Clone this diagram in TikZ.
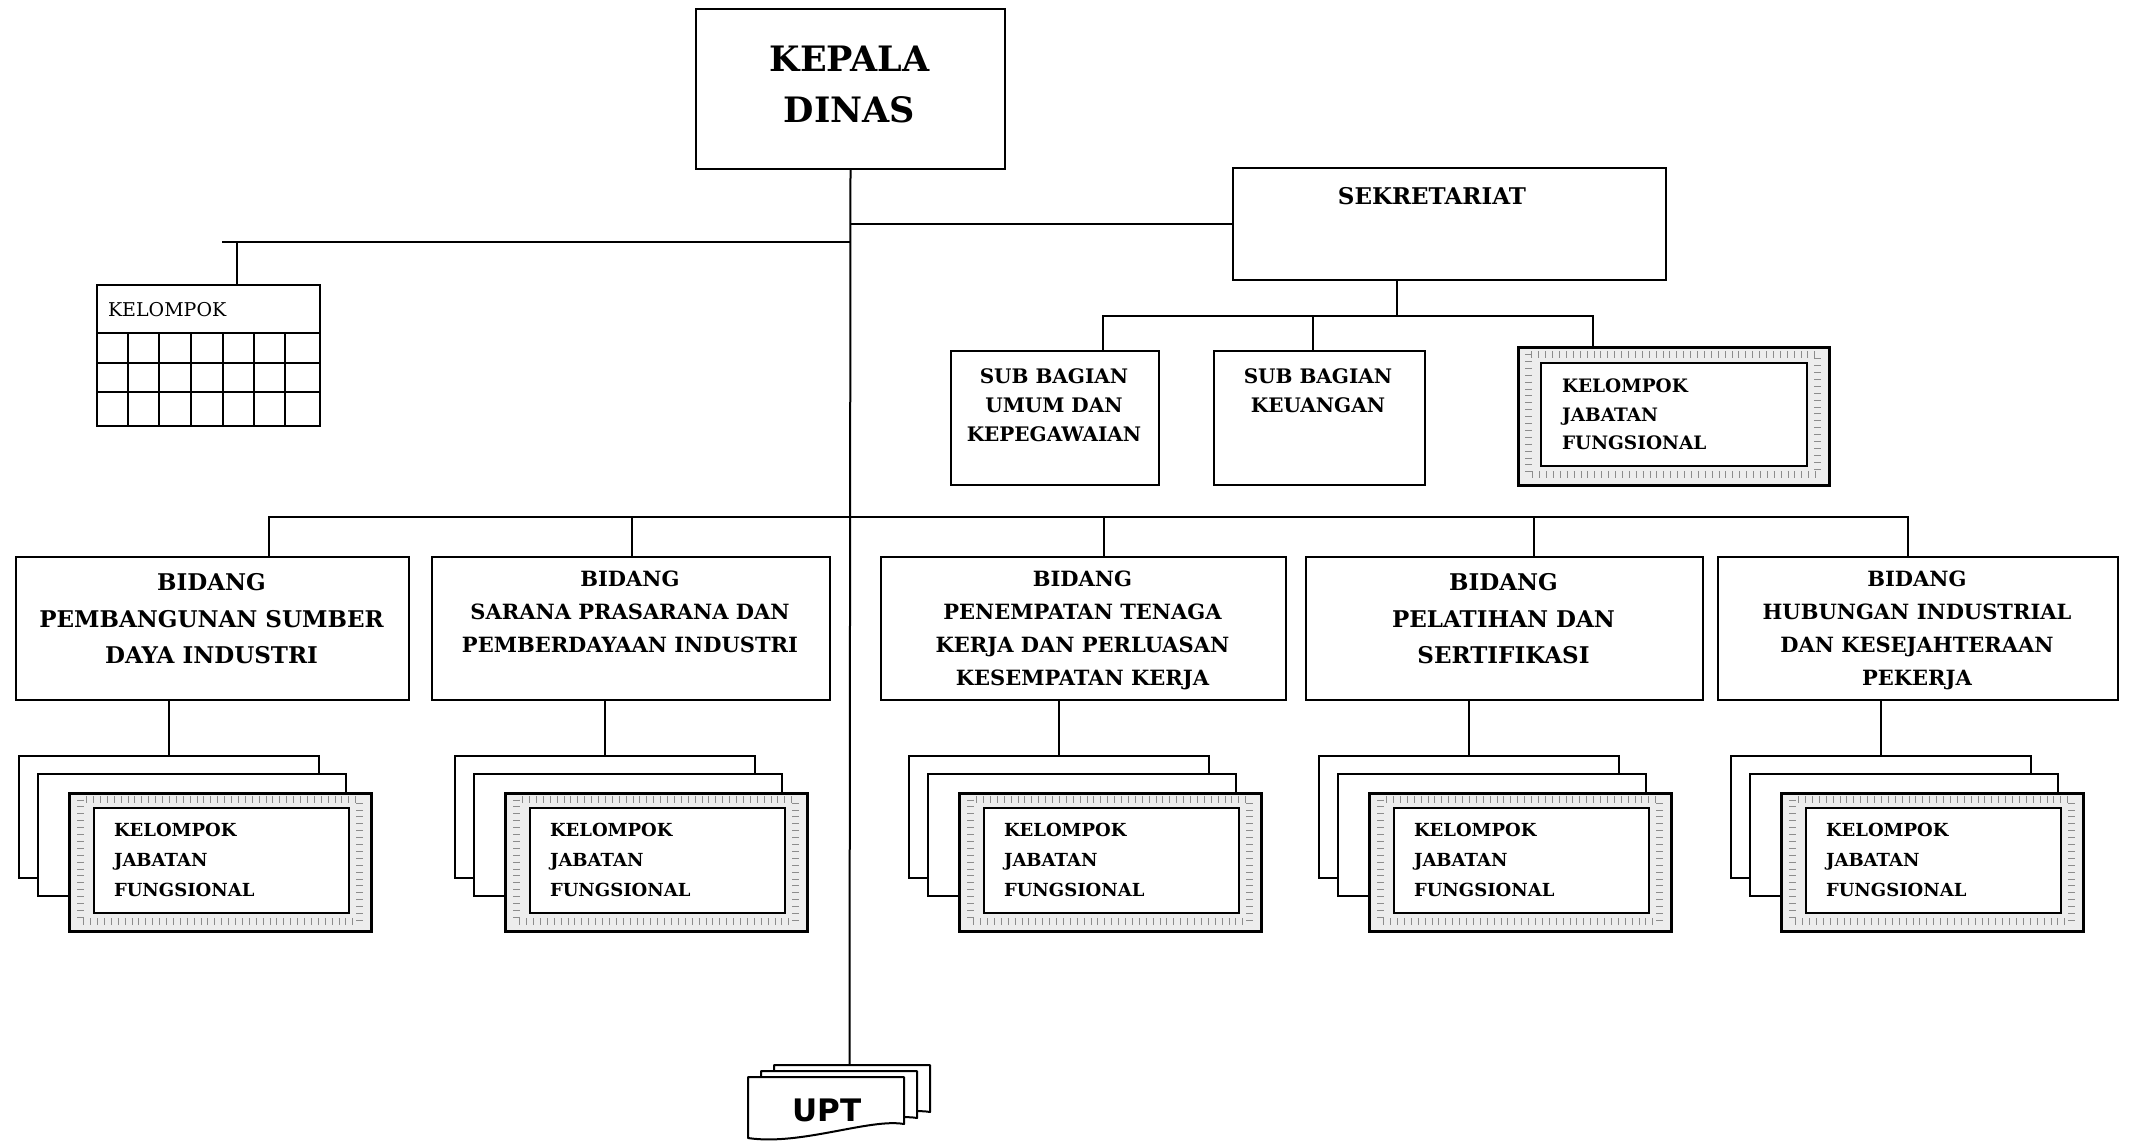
\documentclass[tikz,border=0pt]{standalone}
\usepackage{fontspec}
\setmainfont{DejaVu Serif}
\newfontfamily\uptfont{DejaVu Sans}
\begin{document}
\begin{tikzpicture}[x=1pt,y=-1pt,
  line width=2pt,
  box/.style={draw, line width=2pt, fill=white, rectangle, inner sep=0pt, anchor=north west},
  kjfout/.style={box, line width=2.6pt, fill=black!7},
  kjfin/.style={box, line width=2.4pt},
  ticks/.style={draw=black!45, line width=7pt, dash pattern=on 0.9pt off 6pt},
  txt/.style={inner sep=0pt, align=center, anchor=north, font=\bfseries},
  bigtxt/.style={txt, font=\fontsize{23}{36.5}\selectfont\bfseries},
  smalltxt/.style={txt, font=\fontsize{21}{33}\selectfont\bfseries},
  subtxt/.style={txt, font=\fontsize{20}{29}\selectfont\bfseries},
  kjftxt/.style={inner sep=0pt, align=left, anchor=north west},
  sheet/.style={draw, line width=2pt, fill=white, line join=round}
]
\useasboundingbox (0,0) rectangle (2129,1141);

% ---------- top level ----------
\node[box, minimum width=309, minimum height=160] (kd) at (695,8) {};
\node[txt, font=\fontsize{35}{51}\selectfont\bfseries] (kdt) at (849.5,45) {KEPALA\\DINAS};

\node[box, minimum width=433, minimum height=112] (sek) at (1232,167) {};
\node[txt, font=\fontsize{23}{28}\selectfont\bfseries] (sekt) at (1432,186) {SEKRETARIAT};

% ---------- kelompok grid (left) ----------
\node[box, minimum width=223, minimum height=141] (kel) at (96,284) {};
\node[inner sep=0pt, anchor=north west, font=\fontsize{19}{22}\selectfont] (kelt) at (107,301) {KELOMPOK};
\begin{scope}[line width=1.6pt]
  \draw (96,333) -- (319,333);
  \draw (96,363) -- (319,363);
  \draw (96,392) -- (319,392);
  \foreach \gx in {128,159,191,223,254,285} \draw (\gx,333) -- (\gx,425);
\end{scope}

% ---------- sekretariat sub units ----------
\node[box, minimum width=208, minimum height=134] (sub1) at (950,350) {};
\node[subtxt] (sub1t) at (1054,368) {SUB BAGIAN\\UMUM DAN\\KEPEGAWAIAN};
\node[box, minimum width=211, minimum height=134] (sub2) at (1213,350) {};
\node[subtxt] (sub2t) at (1318,368) {SUB BAGIAN\\KEUANGAN};

\node[kjfout, minimum width=311, minimum height=138] (kjs) at (1517,346) {};
\draw[ticks] (1528.5,354) rectangle (1817,474.5);
\node[kjfin, minimum width=266, minimum height=103] (kjsi) at (1540,362) {};
\node[kjftxt, font=\fontsize{18.5}{28.5}\selectfont\bfseries] (kjst) at (1561,378) {KELOMPOK\\JABATAN\\FUNGSIONAL};

% ---------- bidang ----------
\node[box, minimum width=393, minimum height=143] (bid1) at (15,556) {};
\node[bigtxt] (bid1t) at (211.5,572.5) {BIDANG\\PEMBANGUNAN SUMBER\\DAYA INDUSTRI};
\node[box, minimum width=398, minimum height=143] (bid2) at (431,556) {};
\node[smalltxt] (bid2t) at (630,570) {BIDANG\\SARANA PRASARANA DAN\\PEMBERDAYAAN INDUSTRI};
\node[box, minimum width=405, minimum height=143] (bid3) at (880,556) {};
\node[smalltxt] (bid3t) at (1082.5,570) {BIDANG\\PENEMPATAN TENAGA\\KERJA DAN PERLUASAN\\KESEMPATAN KERJA};
\node[box, minimum width=397, minimum height=143] (bid4) at (1305,556) {};
\node[bigtxt] (bid4t) at (1503.5,572.5) {BIDANG\\PELATIHAN DAN\\SERTIFIKASI};
\node[box, minimum width=400, minimum height=143] (bid5) at (1717,556) {};
\node[smalltxt] (bid5t) at (1917,570) {BIDANG\\HUBUNGAN INDUSTRIAL\\DAN KESEJAHTERAAN\\PEKERJA};

% ---------- stacked functional groups under each bidang ----------
\newcommand{\kjfstack}[3]{%
  \pgfmathsetmacro{\fx}{#2-100}
  \node[box, minimum width=300, minimum height=122] (#1b) at ({\fx-50},755) {};
  \node[box, minimum width=308, minimum height=122] (#1m) at ({\fx-31},773) {};
  \node[kjfout, minimum width=302, minimum height=138] (#1f) at (\fx,792) {};
  \draw[ticks] ({\fx+12.5},799.5) rectangle ({\fx+291},921);
  \node[kjfin, minimum width=255, minimum height=105] (#1i) at ({\fx+25},807) {};
  \node[kjftxt, font=\fontsize{18}{30}\selectfont\bfseries] (#1t) at ({\fx+45},822) {KELOMPOK\\JABATAN\\FUNGSIONAL};
  \draw (#3.south -| #1b.north) -- (#1b.north);
}
\kjfstack{st1}{168}{bid1}
\kjfstack{st2}{604}{bid2}
\kjfstack{st3}{1058}{bid3}
\kjfstack{st4}{1468}{bid4}
\kjfstack{st5}{1880}{bid5}

% ---------- UPT ----------
\foreach \dx/\dy in {26/-12, 13/-6, 0/0}
  \draw[sheet] ({748+\dx},{1077+\dy}) -- ({904+\dx},{1077+\dy}) -- ({904+\dx},{1124+\dy})
    .. controls ({870+\dx},{1118+\dy}) and ({800+\dx},{1146+\dy}) .. ({748+\dx},{1138+\dy}) -- cycle;
\node[inner sep=0pt, font=\fontsize{31}{34}\selectfont\uptfont\bfseries] (upt) at (827,1110) {UPT};
\coordinate (upttop) at (849.5,1065);

% ---------- connectors ----------
\draw (kd.south) -- (upttop);
\draw (sek.west -| kd.south) -- (sek.west);

\coordinate (kelL) at (222,242);
\coordinate (kelJ) at (237,242);
\draw (kelL) -- (kelL -| kd.south);
\draw (kelJ) -- (kel.north -| kelJ);

\coordinate (sekJ) at (1397,316);
\coordinate (sbL) at (1103,316);
\coordinate (sbM) at (1313,316);
\coordinate (sbR) at (1593,316);
\draw (sek.south -| sekJ) -- (sekJ);
\draw (sub1.north -| sbL) -- (sbL) -- (sbR) -- (kjs.north -| sbR);
\draw (sbM) -- (sub2.north -| sbM);

\coordinate (bL) at (269,517);
\coordinate (b2) at (632,517);
\coordinate (b3) at (1104,517);
\coordinate (b4) at (1534,517);
\coordinate (bR) at (1908,517);
\draw (bid1.north -| bL) -- (bL) -- (bR) -- (bid5.north -| bR);
\draw (b2) -- (bid2.north -| b2);
\draw (b3) -- (bid3.north -| b3);
\draw (b4) -- (bid4.north -| b4);
\end{tikzpicture}
\end{document}
